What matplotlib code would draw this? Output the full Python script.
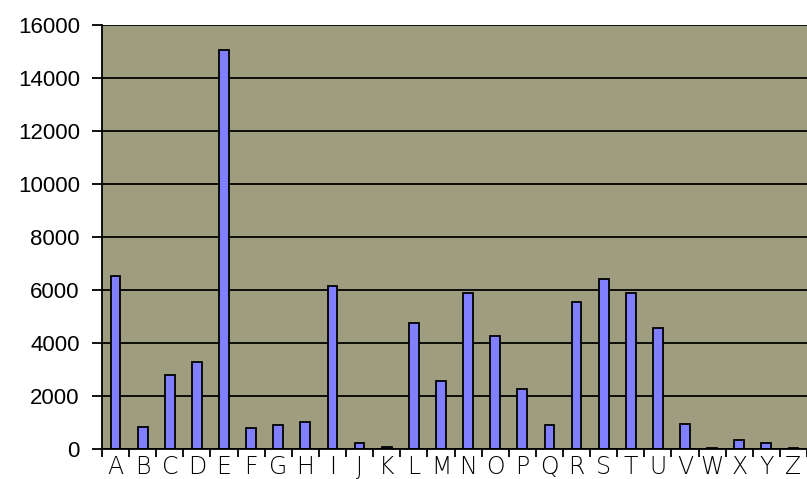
import numpy as np
import matplotlib
matplotlib.use("Agg")
from matplotlib import pyplot as plt
from matplotlib.ticker import FixedLocator, NullFormatter

letters = list("ABCDEFGHIJKLMNOPQRSTUVWXYZ")
counts = [6520, 820, 2810, 3270, 15050, 800, 890, 1030, 6140, 215,
          60, 4750, 2580, 5900, 4280, 2280, 890, 5530, 6420, 5900,
          4580, 955, 50, 350, 210, 50]
yticks = [0, 2000, 4000, 6000, 8000, 10000, 12000, 14000, 16000]

plot_bg  = "#9e9d7f"
bar_face = "#7f7fff"

fig = plt.figure(figsize=(8.07, 4.79), dpi=100)
ax = fig.add_axes([0.1264, 0.0626, 0.8736, 0.8852])
ax.set_facecolor(plot_bg)

x = np.arange(len(letters))
ax.bar(x, counts, width=0.36, color=bar_face, edgecolor="black",
       linewidth=1.3, zorder=3)

ax.set_xlim(-0.5, len(letters) - 0.5)
ax.set_ylim(0, 16000)

# horizontal grid at every tick
ax.set_yticks(yticks)
ax.yaxis.grid(True, color="black", linewidth=1.3, zorder=1)
ax.set_axisbelow(True)
ax.tick_params(axis="y", direction="out", length=7, width=1.3,
               labelsize=16, pad=9)
for lab in ax.get_yticklabels():
    lab.set_fontfamily("Liberation Sans")

# letters at bar centres, tick marks on the category boundaries
ax.set_xticks(x)
ax.set_xticklabels(letters, fontsize=17, fontfamily="DejaVu Sans",
                   fontweight="light")
ax.tick_params(axis="x", which="major", length=0, pad=4)
ax.xaxis.set_minor_locator(FixedLocator(np.arange(-0.5, len(letters), 1.0)))
ax.xaxis.set_minor_formatter(NullFormatter())
ax.tick_params(axis="x", which="minor", direction="out", length=6, width=1.3)

for side in ("top", "right"):
    ax.spines[side].set_visible(False)
for side in ("left", "bottom"):
    ax.spines[side].set_linewidth(1.3)
    ax.spines[side].set_zorder(4)

plt.savefig("out.png", dpi=100)
